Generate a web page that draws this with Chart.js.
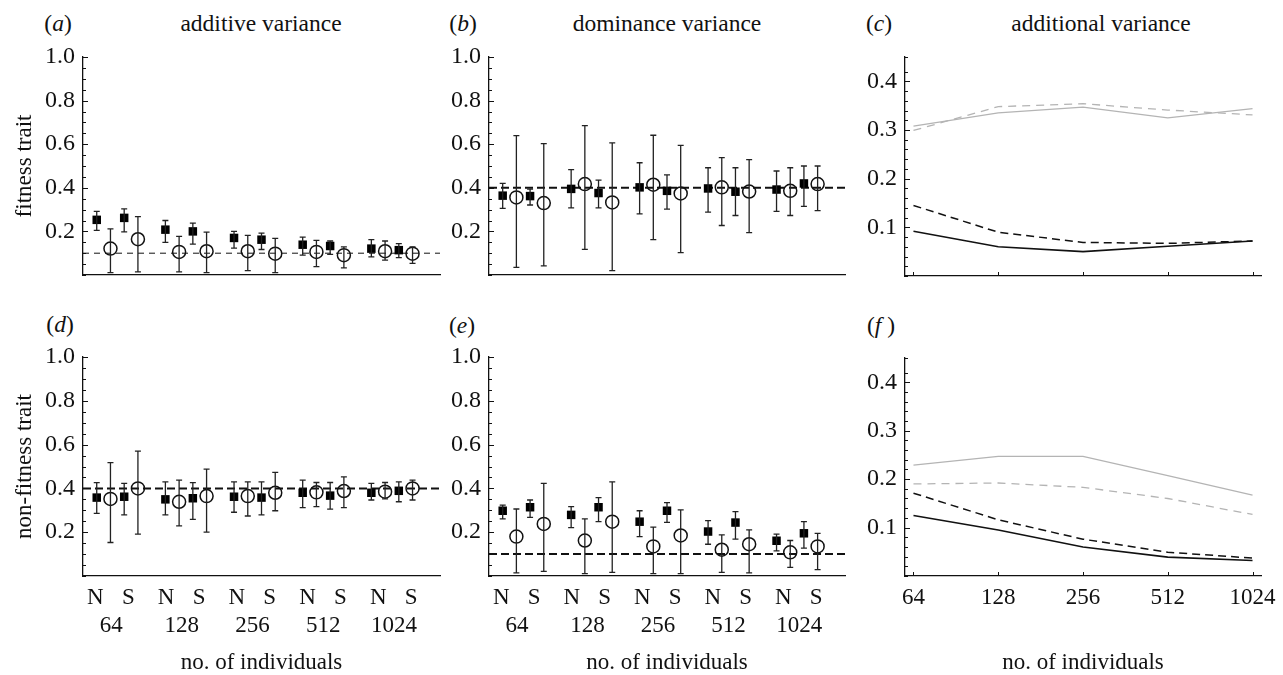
<!DOCTYPE html>
<html>
<head>
<meta charset="utf-8">
<script src="https://cdn.jsdelivr.net/npm/chart.js@4.4.1/dist/chart.umd.min.js"></script>
<style>
  html, body { margin: 0; padding: 0; background: #fff; }
  body { width: 1283px; height: 675px; position: relative; overflow: hidden;
         font-family: "Liberation Serif", "DejaVu Serif", serif; color: #111; }
  canvas { position: absolute; }
  .lbl { position: absolute; transform: translate(-50%, -50%); white-space: nowrap; font-size: 23.5px; }
</style>
</head>
<body>
<div class="lbl" style="left:58px;top:23px">(<i>a</i>)</div>
<div class="lbl" style="left:261px;top:23px">additive variance</div>
<div class="lbl" style="left:463px;top:23px">(<i>b</i>)</div>
<div class="lbl" style="left:667px;top:23px">dominance variance</div>
<div class="lbl" style="left:879px;top:23px">(<i>c</i>)</div>
<div class="lbl" style="left:1101px;top:23px">additional variance</div>
<div class="lbl" style="left:60px;top:324px">(<i>d</i>)</div>
<div class="lbl" style="left:462px;top:325px">(<i>e</i>)</div>
<div class="lbl" style="left:881px;top:325px">(<i>f</i> )</div>

<canvas id="pa" width="450" height="300" style="left:0;top:0"></canvas>
<canvas id="pb" width="440" height="300" style="left:420px;top:0"></canvas>
<canvas id="pc" width="433" height="300" style="left:850px;top:0"></canvas>
<canvas id="pd" width="450" height="375" style="left:0;top:300px"></canvas>
<canvas id="pe" width="440" height="375" style="left:420px;top:300px"></canvas>
<canvas id="pf" width="433" height="375" style="left:850px;top:300px"></canvas>

<script>
// categories
const popSizes = ['64', '128', '256', '512', '1024'];
const regimes = ['N', 'S'];

// each series: 64N, 64S, 128N, 128S, ... 1024N, 1024S
// (a) fitness trait, additive variance
const aSqMean = [0.253, 0.262, 0.208, 0.200, 0.170, 0.162, 0.139, 0.133, 0.121, 0.114];
const aSqLo   = [0.205, 0.198, 0.150, 0.142, 0.123, 0.117, 0.091, 0.095, 0.083, 0.080];
const aSqHi   = [0.292, 0.303, 0.250, 0.238, 0.200, 0.192, 0.174, 0.156, 0.162, 0.144];
const aCiMean = [0.121, 0.164, 0.106, 0.109, 0.109, 0.098, 0.106, 0.091, 0.109, 0.098];
const aCiLo   = [0.011, 0.014, 0.014, 0.011, 0.020, 0.011, 0.038, 0.033, 0.068, 0.053];
const aCiHi   = [0.212, 0.268, 0.177, 0.197, 0.182, 0.168, 0.159, 0.129, 0.156, 0.129];
const aTrue = 0.1;

// (b) fitness trait, dominance variance
const bSqMean = [0.364, 0.362, 0.395, 0.376, 0.402, 0.386, 0.397, 0.382, 0.392, 0.420];
const bSqLo   = [0.306, 0.321, 0.308, 0.308, 0.280, 0.302, 0.288, 0.273, 0.292, 0.315];
const bSqHi   = [0.420, 0.394, 0.483, 0.435, 0.515, 0.459, 0.492, 0.492, 0.477, 0.500];
const bCiMean = [0.356, 0.330, 0.417, 0.333, 0.414, 0.374, 0.402, 0.383, 0.386, 0.417];
const bCiLo   = [0.035, 0.042, 0.118, 0.020, 0.162, 0.103, 0.227, 0.194, 0.273, 0.295];
const bCiHi   = [0.639, 0.603, 0.685, 0.606, 0.641, 0.595, 0.538, 0.529, 0.492, 0.500];
const bTrue = 0.4;

// (d) non-fitness trait, additive variance
const dSqMean = [0.358, 0.362, 0.350, 0.355, 0.362, 0.358, 0.380, 0.367, 0.380, 0.389];
const dSqLo   = [0.286, 0.279, 0.279, 0.259, 0.291, 0.279, 0.312, 0.305, 0.347, 0.339];
const dSqHi   = [0.426, 0.423, 0.430, 0.426, 0.430, 0.430, 0.438, 0.427, 0.423, 0.430];
const dCiMean = [0.352, 0.400, 0.339, 0.365, 0.365, 0.380, 0.382, 0.388, 0.385, 0.400];
const dCiLo   = [0.153, 0.191, 0.229, 0.200, 0.274, 0.298, 0.317, 0.312, 0.352, 0.347];
const dCiHi   = [0.518, 0.570, 0.438, 0.488, 0.430, 0.473, 0.427, 0.453, 0.427, 0.438];
const dTrue = 0.4;

// (e) non-fitness trait, dominance variance
const eSqMean = [0.298, 0.314, 0.279, 0.314, 0.248, 0.298, 0.203, 0.244, 0.161, 0.195];
const eSqLo   = [0.261, 0.268, 0.221, 0.248, 0.180, 0.245, 0.145, 0.168, 0.115, 0.127];
const eSqHi   = [0.324, 0.347, 0.317, 0.358, 0.298, 0.335, 0.253, 0.294, 0.191, 0.248];
const eCiMean = [0.180, 0.238, 0.162, 0.248, 0.135, 0.185, 0.120, 0.145, 0.108, 0.135];
const eCiLo   = [0.014, 0.021, 0.011, 0.017, 0.011, 0.011, 0.017, 0.014, 0.039, 0.029];
const eCiHi   = [0.306, 0.423, 0.261, 0.430, 0.223, 0.302, 0.188, 0.211, 0.162, 0.195];
const eTrue = 0.1;

// (c) fitness trait, additional variance (64 .. 1024)
const cGraySolid  = [0.308, 0.335, 0.347, 0.325, 0.344];
const cGrayDash   = [0.299, 0.348, 0.354, 0.341, 0.331];
const cBlackDash  = [0.145, 0.090, 0.069, 0.067, 0.072];
const cBlackSolid = [0.092, 0.060, 0.050, 0.061, 0.072];

// (f) non-fitness trait, additional variance
const fGraySolid  = [0.229, 0.247, 0.247, 0.207, 0.167];
const fGrayDash   = [0.190, 0.192, 0.183, 0.160, 0.127];
const fBlackDash  = [0.171, 0.116, 0.076, 0.049, 0.037];
const fBlackSolid = [0.125, 0.095, 0.060, 0.039, 0.032];

Chart.defaults.font.family = '"Liberation Serif", "DejaVu Serif", serif';
Chart.defaults.color = '#111';

const ink = '#111';

// whiskers drawn through the library's y scale
const errorBars = {
  id: 'errorBars',
  afterDatasetsDraw(chart) {
    const ctx = chart.ctx;
    const ys = chart.scales.y;
    chart.data.datasets.forEach((ds, di) => {
      if (!ds.errLo) return;
      const meta = chart.getDatasetMeta(di);
      ctx.save();
      ctx.strokeStyle = '#222';
      ctx.lineWidth = 1.3;
      meta.data.forEach((pt, i) => {
        const x = pt.x;
        const y1 = ys.getPixelForValue(ds.errLo[i]);
        const y2 = ys.getPixelForValue(ds.errHi[i]);
        ctx.beginPath();
        ctx.moveTo(x, y1); ctx.lineTo(x, y2);
        ctx.moveTo(x - 3, y1); ctx.lineTo(x + 3, y1);
        ctx.moveTo(x - 3, y2); ctx.lineTo(x + 3, y2);
        ctx.stroke();
      });
      ctx.restore();
    });
  }
};

// tick marks pointing into the plot
const innerTicks = {
  id: 'innerTicks',
  afterDraw(chart, args, opts) {
    const ctx = chart.ctx;
    const area = chart.chartArea;
    const ys = chart.scales.y;
    ctx.save();
    ctx.strokeStyle = ink;
    ctx.lineWidth = 1;
    ys.ticks.forEach(t => {
      const py = Math.round(ys.getPixelForValue(t.value)) + 0.5;
      const len = t.label ? 5 : 3;
      ctx.beginPath();
      ctx.moveTo(area.left, py);
      ctx.lineTo(area.left + len, py);
      ctx.stroke();
    });
    if (opts.xTicks) {
      const xs = chart.scales.x;
      xs.ticks.forEach(t => {
        const px = Math.round(xs.getPixelForValue(t.value)) + 0.5;
        ctx.beginPath();
        ctx.moveTo(px, area.bottom);
        ctx.lineTo(px, area.bottom - 4);
        ctx.stroke();
      });
    }
    ctx.restore();
  }
};

const axisTitleFont = { size: 23, lineHeight: 1 };

function yAxis(width, max, step, major, title) {
  return {
    type: 'linear', min: 0, max: max,
    afterFit: s => { s.width = width; },
    grid: { display: false },
    border: { display: true, color: ink, width: 1.3 },
    ticks: {
      stepSize: step, padding: 0, autoSkip: false, font: { size: 24 },
      callback: v => {
        const k = Math.round(v / major);
        return (v > 1e-9 && Math.abs(v - k * major) < 1e-6) ? v.toFixed(1) : '';
      }
    },
    title: title ? { display: true, text: title, font: axisTitleFont, padding: { top: 13 } } : { display: false }
  };
}

function xPlain(min, max, height) {
  return {
    type: 'linear', min: min, max: max,
    afterFit: s => { s.height = height; },
    grid: { display: false },
    border: { display: true, color: ink, width: 1.3 },
    ticks: { display: false }
  };
}

// group g, regime k -> square at 5g+2k, circle at 5g+2k+1
function pts(vals, shift) {
  return vals.map((v, i) => ({ x: 5 * Math.floor(i / 2) + 2 * (i % 2) + shift, y: v }));
}

function errorPanel(id, sqMean, sqLo, sqHi, ciMean, ciLo, ciHi, trueVal, o) {
  const scales = {
    y: yAxis(o.yWidth, 1.0, 0.05, 0.2, o.yTitle),
  };
  if (o.withLabels) {
    const labelPitch = 5.15;
    const nsPos = [];
    const nsTxt = [];
    const numPos = [];
    popSizes.forEach((p, g) => {
      nsPos.push(g * labelPitch - 0.1); nsTxt.push(regimes[0]);
      nsPos.push(g * labelPitch + 2.3); nsTxt.push(regimes[1]);
      numPos.push(g * labelPitch + 1.05);
    });
    scales.x = {
      type: 'linear', min: -1, max: 25, weight: 0,
      afterFit: s => { s.height = 28; },
      afterBuildTicks: s => { s.ticks = nsPos.map(v => ({ value: v })); },
      grid: { display: false },
      border: { display: true, color: ink, width: 1.3 },
      ticks: { padding: 0, autoSkip: false, maxRotation: 0, font: { size: 23 },
               callback: (v, i) => nsTxt[i] }
    };
    scales.x2 = {
      type: 'linear', position: 'bottom', min: -1, max: 25, weight: 1,
      afterFit: s => { s.height = 71; },
      afterBuildTicks: s => { s.ticks = numPos.map(v => ({ value: v })); },
      grid: { display: false },
      border: { display: false },
      ticks: { padding: 0, autoSkip: false, maxRotation: 0, font: { size: 23 },
               callback: (v, i) => popSizes[i] },
      title: { display: true, text: 'no. of individuals', font: axisTitleFont, padding: { top: 0, bottom: 1 } }
    };
  } else {
    scales.x = xPlain(-1, 25, 25);
  }

  new Chart(document.getElementById(id), {
    type: 'scatter',
    data: {
      datasets: [
        {
          data: pts(sqMean, 0), errLo: sqLo, errHi: sqHi,
          pointStyle: 'rect', pointRadius: 6, backgroundColor: '#000', borderColor: '#000', borderWidth: 0
        },
        {
          data: pts(ciMean, 1), errLo: ciLo, errHi: ciHi,
          pointStyle: 'circle', pointRadius: 6.5, backgroundColor: 'rgba(0,0,0,0)', borderColor: '#111', borderWidth: 1.5
        },
        {
          type: 'line', data: [{ x: -1, y: trueVal }, { x: 25, y: trueVal }],
          borderColor: '#111', borderWidth: o.refWidth, borderDash: o.refDash, pointRadius: 0
        }
      ]
    },
    options: {
      responsive: false, animation: false,
      layout: { padding: { top: o.padTop, right: o.padRight, left: 0, bottom: 0 } },
      plugins: { legend: { display: false }, tooltip: { enabled: false }, innerTicks: { xTicks: false } },
      scales: scales
    },
    plugins: [errorBars, innerTicks]
  });
}

function linePanel(id, graySolid, grayDash, blackDash, blackSolid, o) {
  const xy = vals => vals.map((v, i) => ({ x: i, y: v }));
  const line = (vals, color, width, dash) => ({
    type: 'line', data: xy(vals), borderColor: color, borderWidth: width,
    borderDash: dash, pointRadius: 0, tension: 0
  });
  const x = {
    type: 'linear', min: -0.1, max: 4.1,
    afterFit: s => { s.height = o.xHeight; },
    afterBuildTicks: s => { s.ticks = popSizes.map((p, i) => ({ value: i })); },
    grid: { display: false },
    border: { display: true, color: ink, width: 1.3 },
    ticks: { display: o.withLabels, padding: 0, autoSkip: false, maxRotation: 0, font: { size: 23 },
             callback: (v, i) => popSizes[i] },
    title: o.withLabels ? { display: true, text: 'no. of individuals', font: axisTitleFont, padding: { top: 0, bottom: 1 } } : { display: false }
  };
  new Chart(document.getElementById(id), {
    type: 'scatter',
    data: {
      datasets: [
        line(graySolid, '#b4b4b4', 1.3, []),
        line(grayDash, '#b4b4b4', 1.3, [8, 6]),
        line(blackDash, '#111', 1.5, [8, 5]),
        line(blackSolid, '#111', 1.6, [])
      ]
    },
    options: {
      responsive: false, animation: false,
      layout: { padding: { top: o.padTop, right: o.padRight, left: 0, bottom: 0 } },
      plugins: { legend: { display: false }, tooltip: { enabled: false }, innerTicks: { xTicks: true } },
      scales: { x: x, y: yAxis(o.yWidth, 0.45, 0.02, 0.1, null) }
    },
    plugins: [innerTicks]
  });
}

errorPanel('pa', aSqMean, aSqLo, aSqHi, aCiMean, aCiLo, aCiHi, aTrue,
  { yWidth: 83, yTitle: 'fitness trait', padTop: 57, padRight: 10, refWidth: 1, refDash: [6, 5], withLabels: false });
errorPanel('pb', bSqMean, bSqLo, bSqHi, bCiMean, bCiLo, bCiHi, bTrue,
  { yWidth: 69, yTitle: null, padTop: 57, padRight: 15, refWidth: 2, refDash: [8, 4], withLabels: false });
errorPanel('pd', dSqMean, dSqLo, dSqHi, dCiMean, dCiLo, dCiHi, dTrue,
  { yWidth: 83, yTitle: 'non-fitness trait', padTop: 57, padRight: 10, refWidth: 2, refDash: [8, 4], withLabels: true });
errorPanel('pe', eSqMean, eSqLo, eSqHi, eCiMean, eCiLo, eCiHi, eTrue,
  { yWidth: 69, yTitle: null, padTop: 57, padRight: 15, refWidth: 2, refDash: [8, 4], withLabels: true });

linePanel('pc', cGraySolid, cGrayDash, cBlackDash, cBlackSolid,
  { yWidth: 55, padTop: 57, padRight: 22, xHeight: 24, withLabels: false });
linePanel('pf', fGraySolid, fGrayDash, fBlackDash, fBlackSolid,
  { yWidth: 55, padTop: 58, padRight: 22, xHeight: 99, withLabels: true });
</script>
</body>
</html>
